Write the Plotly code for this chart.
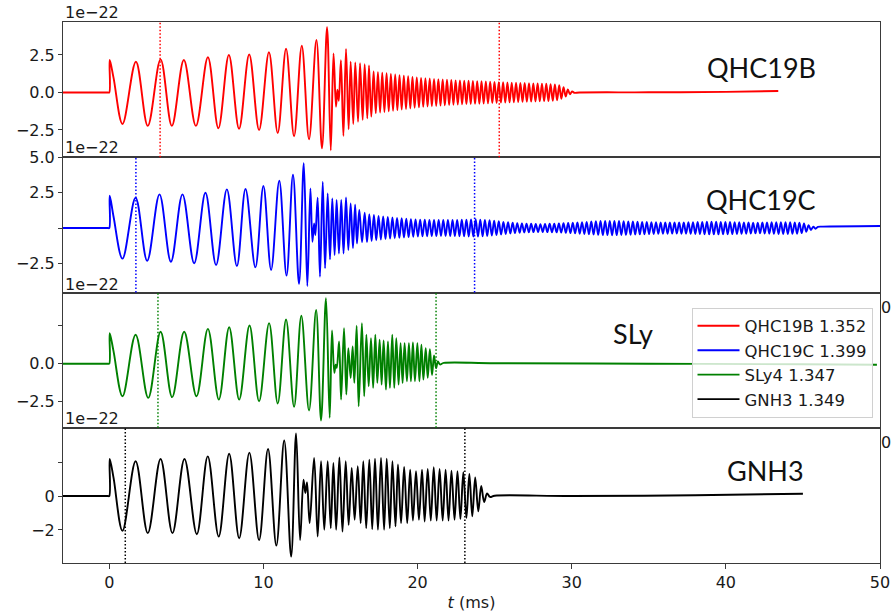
import plotly.graph_objects as go

# ---------------------------------------------------------------------------
# Strain extrema (h in units of 1e-22) versus time t in ms for each model.
# ---------------------------------------------------------------------------
t_qhc19b = [
    -3.0, -0.1, 0.0, 0.03, 0.28, 0.86, 1.73, 2.5, 3.33, 4.06,
    4.84, 5.62, 6.4, 7.08, 7.76, 8.42, 9.08, 9.72, 10.36, 10.93,
    11.47, 11.99, 12.49, 12.96, 13.44, 13.8, 14.13, 14.37, 14.55, 14.71,
    14.8, 14.89, 15.03, 15.19, 15.36, 15.53, 15.66, 15.83, 15.96, 16.14,
    16.27, 16.44, 16.57, 16.74, 16.85, 17.0,
    17.15, 17.29, 17.43, 17.57, 17.71, 17.85, 17.99, 18.13, 18.27, 18.41,
    18.55, 18.69, 18.83, 18.97, 19.11, 19.25, 19.39, 19.53, 19.67, 19.81,
    19.95, 20.09, 20.23, 20.37, 20.51, 20.65, 20.79, 20.93, 21.07, 21.21,
    21.35, 21.49, 21.63, 21.77, 21.91, 22.05, 22.19, 22.33, 22.47, 22.61,
    22.75, 22.89, 23.03, 23.17, 23.31, 23.45, 23.59, 23.73, 23.87, 24.01,
    24.15, 24.29, 24.43, 24.57, 24.71, 24.85, 24.99, 25.13, 25.27, 25.41,
    25.55, 25.69, 25.83, 25.97, 26.11, 26.25, 26.39, 26.53, 26.67, 26.81,
    26.95, 27.09, 27.23, 27.37, 27.51, 27.65, 27.79, 27.93, 28.07, 28.21,
    28.35, 28.49, 28.63, 28.77, 28.91, 29.05, 29.19, 29.33, 29.47, 29.61,
    29.75, 29.89, 30.03, 30.17,
    30.5, 35.0, 40.0, 43.4,
]
h_qhc19b = [
    0.0, 0.0, 0.0, 2.17, 0.97, -2.1, 2.05, -2.23, 2.21, -2.23,
    2.17, -2.23, 2.35, -2.39, 2.5, -2.42, 2.53, -2.5, 2.68, -2.7,
    2.92, -2.92, 3.12, -3.12, 3.5, -3.72, 4.35, -3.86, 2.6, -0.95,
    0.18, -0.55, 2.15, -2.9, 2.9, -2.45, 2.05, -2.1, 2.0, -1.95,
    1.95, -1.83, 1.88, -1.72, 1.81, -1.61,
    1.40, -1.38, 1.36, -1.34, 1.32, -1.30, 1.28, -1.26, 1.24, -1.22,
    1.20, -1.18, 1.16, -1.14, 1.12, -1.10, 1.08, -1.06, 1.04, -1.02,
    1.00, -0.99, 0.97, -0.96, 0.95, -0.94, 0.93, -0.92, 0.91, -0.90,
    0.89, -0.88, 0.87, -0.86, 0.85, -0.84, 0.83, -0.82, 0.81, -0.80,
    0.80, -0.79, 0.79, -0.78, 0.78, -0.77, 0.77, -0.76, 0.76, -0.75,
    0.75, -0.74, 0.74, -0.73, 0.72, -0.71, 0.71, -0.70, 0.69, -0.68,
    0.68, -0.67, 0.67, -0.66, 0.66, -0.65, 0.65, -0.64, 0.64, -0.63,
    0.63, -0.62, 0.62, -0.61, 0.61, -0.60, 0.60, -0.59, 0.59, -0.58,
    0.58, -0.57, 0.56, -0.55, 0.54, -0.52, 0.48, -0.42, 0.35, -0.27,
    0.20, -0.12, 0.07, -0.02,
    0.0, 0.01, 0.04, 0.1,
]

t_qhc19c = [
    -3.0, -0.1, 0.0, 0.03, 0.28, 0.86, 1.71, 2.46, 3.26, 4.0,
    4.75, 5.51, 6.24, 6.93, 7.63, 8.28, 8.84, 9.48, 10.0, 10.5,
    11.03, 11.5, 11.92, 12.31, 12.62, 12.85, 13.05, 13.18, 13.29, 13.37,
    13.52, 13.67, 13.85, 14.0, 14.17, 14.32, 14.47, 14.62, 14.75, 14.9,
    15.05, 15.2, 15.36, 15.51, 15.66, 15.81, 15.95, 16.07, 16.22, 16.4,
    16.57, 16.72, 16.87, 17.02, 17.17, 17.32, 17.47, 17.62, 17.77, 17.92,
    18.07, 18.22, 18.37, 18.52, 18.67, 18.82, 18.97, 19.12, 19.27, 19.42,
    19.57, 19.72, 19.87, 20.02, 20.17, 20.32, 20.47, 20.62, 20.77, 20.92,
    21.07, 21.22, 21.37, 21.52, 21.67, 21.82, 21.97, 22.12, 22.27, 22.42,
    22.57, 22.72, 22.87, 23.02, 23.17, 23.32, 23.47, 23.62, 23.77, 23.92,
    24.07, 24.22, 24.37, 24.52, 24.67, 24.82, 24.97, 25.12, 25.27, 25.42,
    25.57, 25.72, 25.87, 26.02, 26.17, 26.32, 26.47, 26.62, 26.77, 26.92,
    27.07, 27.22, 27.37, 27.52, 27.67, 27.82, 27.97, 28.12, 28.27, 28.42,
    28.57, 28.72, 28.87, 29.02, 29.17, 29.32, 29.47, 29.62, 29.77, 29.92,
    30.07, 30.22, 30.37, 30.52, 30.67, 30.82, 30.97, 31.12, 31.27, 31.42,
    31.57, 31.72, 31.87, 32.02, 32.17, 32.32, 32.47, 32.62, 32.77, 32.92,
    33.07, 33.22, 33.37, 33.52, 33.67, 33.82, 33.97, 34.12, 34.27, 34.42,
    34.57, 34.72, 34.87, 35.02, 35.17, 35.32, 35.47, 35.62, 35.77, 35.92,
    36.07, 36.22, 36.37, 36.52, 36.67, 36.82, 36.97, 37.12, 37.27, 37.42,
    37.57, 37.72, 37.87, 38.02, 38.17, 38.32, 38.47, 38.62, 38.77, 38.92,
    39.07, 39.22, 39.37, 39.52, 39.67, 39.82, 39.97, 40.12, 40.27, 40.42,
    40.57, 40.72, 40.87, 41.02, 41.17, 41.32, 41.47, 41.62, 41.77, 41.92,
    42.07, 42.22, 42.37, 42.52, 42.67, 42.82, 42.97, 43.12, 43.27, 43.42,
    43.57, 43.72, 43.87, 44.02, 44.17, 44.32, 44.47, 44.62, 44.77, 44.92,
    45.07, 45.22, 45.37, 45.52, 45.67, 45.82, 45.97,
    46.3, 50.0,
]
h_qhc19c = [
    0.0, 0.0, 0.0, 2.29, 0.8, -2.17, 2.15, -2.32, 2.39, -2.39,
    2.39, -2.5, 2.5, -2.62, 2.74, -2.7, 2.77, -2.79, 2.98, -2.98,
    3.35, -3.37, 3.78, -3.95, 4.59, -4.11, 2.81, -0.97, 0.33, -0.5,
    2.15, -3.45, 3.28, -2.86, 2.46, -2.22, 2.1, -1.91, 1.99, -1.8,
    1.99, -1.8, 2.17, -1.56, 1.75, -1.41, 1.66, -1.09, 1.28, -1.0,
    1.09, -1.0, 0.98, -0.92, 0.92, -0.86, 0.86, -0.82, 0.82, -0.78,
    0.78, -0.75, 0.75, -0.72, 0.72, -0.7, 0.69, -0.67, 0.66, -0.64,
    0.63, -0.62, 0.61, -0.6, 0.6, -0.59, 0.59, -0.58, 0.58, -0.57,
    0.57, -0.57, 0.57, -0.56, 0.57, -0.56, 0.57, -0.57, 0.58, -0.57,
    0.58, -0.58, 0.59, -0.59, 0.6, -0.6, 0.61, -0.61, 0.62, -0.61,
    0.6, -0.59, 0.58, -0.56, 0.55, -0.53, 0.52, -0.5, 0.48, -0.46,
    0.44, -0.42, 0.41, -0.39, 0.38, -0.36, 0.35, -0.34, 0.33, -0.32,
    0.31, -0.3, 0.3, -0.29, 0.29, -0.28, 0.28, -0.28, 0.29, -0.29,
    0.3, -0.3, 0.31, -0.31, 0.32, -0.32, 0.34, -0.34, 0.36, -0.36,
    0.38, -0.38, 0.4, -0.4, 0.42, -0.42, 0.44, -0.44, 0.46, -0.46,
    0.48, -0.48, 0.5, -0.5, 0.5, -0.5, 0.51, -0.51, 0.5, -0.5,
    0.5, -0.49, 0.48, -0.48, 0.47, -0.47, 0.46, -0.46, 0.45, -0.45,
    0.44, -0.44, 0.43, -0.43, 0.42, -0.42, 0.41, -0.41, 0.4, -0.4,
    0.4, -0.4, 0.39, -0.39, 0.39, -0.39, 0.4, -0.4, 0.4, -0.4,
    0.41, -0.41, 0.42, -0.42, 0.43, -0.43, 0.44, -0.44, 0.45, -0.45,
    0.45, -0.45, 0.45, -0.45, 0.44, -0.44, 0.44, -0.44, 0.43, -0.43,
    0.42, -0.42, 0.41, -0.41, 0.4, -0.4, 0.39, -0.39, 0.38, -0.38,
    0.38, -0.38, 0.39, -0.39, 0.4, -0.4, 0.41, -0.41, 0.42, -0.42,
    0.42, -0.42, 0.42, -0.42, 0.41, -0.41, 0.4, -0.4, 0.38, -0.36,
    0.32, -0.26, 0.2, -0.14, 0.1, -0.05, 0.08,
    0.1, 0.14,
]

t_sly4 = [
    -3.0, -0.1, 0.0, 0.03, 0.28, 0.86, 1.71, 2.53, 3.33, 4.08,
    4.86, 5.66, 6.4, 7.11, 7.78, 8.43, 9.1, 9.72, 10.37, 10.93,
    11.47, 11.99, 12.46, 12.96, 13.42, 13.74, 14.06, 14.3, 14.45, 14.6,
    14.69, 14.76, 14.91, 15.04, 15.23, 15.38, 15.51, 15.66, 15.79, 15.9,
    16.05, 16.18, 16.39, 16.54, 16.68, 16.83, 16.98, 17.12, 17.26, 17.39,
    17.54, 17.67, 17.8, 17.95, 18.08, 18.21, 18.36, 18.49, 18.62, 18.77,
    18.9, 19.03, 19.16, 19.31, 19.44, 19.57, 19.7, 19.83, 19.99, 20.12,
    20.25, 20.38, 20.53, 20.66, 20.8, 20.94, 21.07, 21.2, 21.32, 21.45,
    21.7, 25.0, 35.0, 45.0, 49.8,
]
h_sly4 = [
    0.0, 0.0, 0.0, 2.02, 0.81, -2.15, 1.91, -2.26, 2.11, -2.21,
    2.11, -2.15, 2.3, -2.37, 2.41, -2.37, 2.52, -2.48, 2.68, -2.63,
    2.92, -2.85, 3.16, -3.09, 3.55, -3.75, 4.32, -3.57, 2.19, -0.61,
    -0.07, -0.28, 1.47, -2.37, 2.35, -2.04, 1.03, -0.94, 1.14, -1.27,
    2.5, -2.81, 2.68, -2.15, 1.91, -1.49, 1.69, -1.6, 1.91, -1.27,
    1.58, -1.38, 1.53, -1.71, 1.47, -1.6, 1.91, -1.6, 1.69, -1.38,
    1.36, -1.27, 1.36, -1.16, 1.36, -1.16, 1.4, -1.16, 1.36, -1.16,
    1.25, -1.05, 1.03, -0.94, 0.95, -0.75, 0.55, -0.3, 0.15, -0.05,
    0.05, 0.03, 0.0, -0.04, -0.07,
]

t_gnh3 = [
    -3.0, -0.1, 0.0, 0.03, 0.28, 0.86, 1.71, 2.5, 3.33, 4.1,
    4.88, 5.68, 6.39, 7.1, 7.78, 8.43, 9.09, 9.72, 10.3, 10.84,
    11.35, 11.8, 12.12, 12.38, 12.6, 12.72, 12.83, 13.0, 13.29, 13.52,
    13.74, 13.95, 14.17, 14.37, 14.54, 14.72, 14.93, 15.13, 15.34, 15.53,
    15.73, 15.92, 16.12, 16.31, 16.48, 16.67, 16.87, 17.06, 17.24, 17.43,
    17.63, 17.83, 18.0, 18.2, 18.37, 18.57, 18.73, 18.93, 19.13, 19.33,
    19.52, 19.7, 19.9, 20.09, 20.29, 20.46, 20.66, 20.86, 21.05, 21.24,
    21.43, 21.63, 21.82, 22.01, 22.2, 22.4, 22.59, 22.78, 22.97, 23.17,
    23.36, 23.55, 23.74, 23.94, 24.13, 24.32, 24.51, 24.7, 25.0, 30.0,
    38.0, 45.0,
]
h_gnh3 = [
    0.0, 0.0, 0.0, 2.19, 1.07, -2.05, 2.05, -2.19, 2.19, -2.19,
    2.19, -2.25, 2.34, -2.39, 2.5, -2.49, 2.56, -2.59, 2.78, -2.92,
    3.28, -3.57, 3.69, -2.59, 0.96, 0.18, 0.8, -1.6, 2.25, -2.39,
    2.05, -1.99, 2.05, -1.89, 1.95, -1.99, 2.28, -2.1, 2.05, -1.7,
    1.66, -1.4, 1.76, -1.6, 2.05, -1.89, 2.15, -1.95, 2.2, -1.99,
    2.25, -1.99, 2.2, -1.89, 2.05, -1.79, 1.86, -1.6, 1.72, -1.6,
    1.56, -1.44, 1.46, -1.4, 1.56, -1.5, 1.6, -1.45, 1.7, -1.45,
    1.6, -1.45, 1.56, -1.45, 1.5, -1.4, 1.46, -1.36, 1.4, -1.3,
    1.3, -1.2, 1.1, -0.9, 0.6, -0.35, 0.15, -0.05, 0.02, 0.0,
    0.05, 0.14,
]

# Reference times (ms) marked with dotted vertical lines in each panel
marks_qhc19b = [3.3, 25.3]
marks_qhc19c = [1.73, 23.7]
marks_sly4 = [3.16, 21.2]
marks_gnh3 = [1.04, 23.07]

legend_names = ["QHC19B 1.352", "QHC19C 1.399", "SLy4 1.347", "GNH3 1.349"]
panel_titles = ["QHC19B", "QHC19C", "SLy", "GNH3"]
colors = ["#ff0000", "#0000ff", "#008000", "#000000"]

x_ticks = [0, 10, 20, 30, 40, 50]
y_tickvals = [[-2.5, 0, 2.5], [-2.5, 0, 2.5, 5.0], [-2.5, 0, 2.5], [-2, 0, 2]]
y_ticktext = [["\u22122.5", "0.0", "2.5"],
              ["\u22122.5", "", "2.5", "5.0"],
              ["\u22122.5", "0.0", ""],
              ["\u22122", "0", ""]]
y_ranges = [[-4.32, 4.70], [-4.57, 5.02], [-4.23, 4.70], [-3.95, 4.03]]

series = [(t_qhc19b, h_qhc19b), (t_qhc19c, h_qhc19c), (t_sly4, h_sly4), (t_gnh3, h_gnh3)]
marks = [marks_qhc19b, marks_qhc19c, marks_sly4, marks_gnh3]

# ---------------------------------------------------------------------------
W, H = 891, 612
ML, MR, MT, MB = 63, 11, 22, 49
plot_h = H - MT - MB
plot_w = W - ML - MR

def py(pix):
    """pixel row -> paper y"""
    return (H - MB - pix) / plot_h

def px(pix):
    """pixel column -> paper x"""
    return (pix - ML) / plot_w

domains = [[0.75, 1.0], [0.5, 0.75], [0.25, 0.5], [0.0, 0.25]]

fig = go.Figure()
shapes = []
for k in range(4):
    sfx = "" if k == 0 else str(k + 1)
    t, h = series[k]
    fig.add_trace(go.Scatter(
        x=t, y=h, mode="lines", name=legend_names[k],
        line=dict(color=colors[k], width=1.9, shape="spline", smoothing=1.0),
        xaxis="x" + sfx, yaxis="y" + sfx,
    ))
    for tm in marks[k]:
        shapes.append(dict(
            type="line", xref="x" + sfx, yref="y" + sfx + " domain",
            x0=tm, x1=tm, y0=0, y1=1,
            line=dict(color=colors[k], width=1.5, dash="1.5px,2px"),
        ))

axis_line = dict(showline=True, linecolor="#3a3a3a", linewidth=1, mirror=True,
                 showgrid=False, zeroline=False, automargin=False)

layout = dict(
    template="none",
    width=W, height=H,
    margin=dict(l=ML, r=MR, t=MT, b=MB, autoexpand=False),
    paper_bgcolor="white", plot_bgcolor="white",
    font=dict(family="DejaVu Sans", size=16, color="#1a1a1a"),
    showlegend=True,
    hovermode=False,
    legend=dict(
        x=px(872.5), xanchor="right", y=py(307.5), yanchor="top",
        bgcolor="rgba(255,255,255,0.8)", bordercolor="#d0d0d0", borderwidth=1,
        font=dict(family="DejaVu Sans", size=16.5, color="#1a1a1a"),
        itemwidth=42, tracegroupgap=0,
    ),
    shapes=shapes,
)

for k in range(4):
    sfx = "" if k == 0 else str(k + 1)
    xa = dict(domain=[0, 1], range=[-3, 50], anchor="y" + sfx, **axis_line)
    if k < 3:
        xa.update(matches="x4", showticklabels=False, ticks="")
    else:
        xa.update(tickvals=x_ticks, ticks="outside", ticklen=5, tickcolor="#3a3a3a",
                  title=dict(text="<i>t</i> (ms)", standoff=5,
                             font=dict(family="DejaVu Sans", size=16)))
    ya = dict(domain=domains[k], range=y_ranges[k], anchor="x" + sfx,
              tickvals=y_tickvals[k], ticktext=y_ticktext[k],
              ticks="outside", ticklen=4, tickcolor="#3a3a3a", **axis_line)
    layout["xaxis" + sfx] = xa
    layout["yaxis" + sfx] = ya

annotations = []
# exponent labels above each panel
for pix in [12.3, 148.0, 284.0, 418.5]:
    annotations.append(dict(
        text="1e\u221222", xref="paper", yref="paper", x=0, y=py(pix),
        xanchor="left", yanchor="middle", showarrow=False,
        font=dict(family="DejaVu Sans", size=16, color="#1a1a1a"),
    ))
# model names inside each panel
title_pos = [(761, 67), (760.5, 199.7), (633, 333.3), (765, 470)]
for name, (cx, cy) in zip(panel_titles, title_pos):
    annotations.append(dict(
        text=name, xref="paper", yref="paper", x=px(cx), y=py(cy),
        xanchor="center", yanchor="middle", showarrow=False,
        font=dict(family="Lato", size=27, color="#111111"),
    ))
# stray tick labels peeking out at the right edge
for pix in [307.0, 442.5]:
    annotations.append(dict(
        text="0", xref="paper", yref="paper", x=px(885.5), y=py(pix),
        xanchor="center", yanchor="middle", showarrow=False,
        font=dict(family="DejaVu Sans", size=16, color="#1a1a1a"),
    ))
layout["annotations"] = annotations

fig.update_layout(**layout)
fig.write_html("out.html")
